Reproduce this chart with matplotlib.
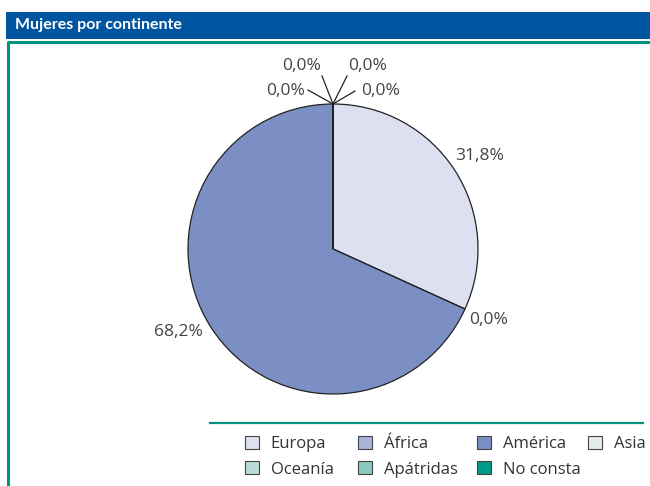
import numpy as np
import matplotlib.pyplot as plt
from matplotlib.patches import Rectangle
from matplotlib.lines import Line2D

# women by continent (%)
continents = ["Europa", "África", "América", "Asia", "Oceanía", "Apátridas", "No consta"]
shares = [31.8, 0.0, 68.2, 0.0, 0.0, 0.0, 0.0]
colors = ["#dde0f0", "#a8b2da", "#7b8fc5", "#e4eded", "#b9dcd9", "#8cc6c0", "#009a8a"]

BLUE = "#0055a0"
TEAL = "#00937f"
W, H = 650, 486

plt.rcParams['font.family'] = ['Open Sans', 'DejaVu Sans']

fig = plt.figure(figsize=(W / 100, H / 100), dpi=100)


def fx(px):
    return px / W


def fy(py):
    return 1 - py / H


# title bar and frame
fig.patches.append(Rectangle((fx(6), fy(39)), fx(644), 27 / H, transform=fig.transFigure,
                             facecolor=BLUE, edgecolor='none'))
fig.text(fx(15), fy(25.5), "Mujeres por continente", color='white', fontsize=11.5,
         fontweight='bold', va='center', ha='left', family=['Lato', 'DejaVu Sans'])
fig.lines.append(Line2D([fx(8), fx(8), fx(650)], [fy(486), fy(42), fy(42)],
                        transform=fig.transFigure, color=TEAL, lw=2.2))
fig.lines.append(Line2D([fx(210), fx(643)], [fy(423), fy(423)],
                        transform=fig.transFigure, color=TEAL, lw=1.6))

# pie axes: center (333, 249), radius 145 px
R = 145
half = 1.5 * R
ax = fig.add_axes([fx(333 - half), fy(249 + half), 2 * half / W, 2 * half / H])
wedges, _ = ax.pie(shares, colors=colors, startangle=90, counterclock=False, radius=1,
                   wedgeprops=dict(edgecolor='#222222', linewidth=0.9))
ax.set_xlim(-1.5, 1.5)
ax.set_ylim(-1.5, 1.5)
ax.set_aspect('equal')
ax.axis('off')


def pct(v):
    return "{:.1f}%".format(v).replace('.', ',')


LABEL_KW = dict(ha='center', va='center', fontsize=12.5, color='#444444')

# fan-out for the zero slices sitting at the top of the pie (line end, text pos) in px
fan = {
    "Asia": ((-25, 14), (-47, 13)),
    "Oceanía": ((-11, 28), (-31, 38)),
    "Apátridas": ((14, 28), (35, 38)),
    "No consta": ((22, 13), (48, 13)),
}
# small nudges (px) for the outside labels
nudge = {"Europa": (3, 0), "América": (-11, 10)}

for w, name, v in zip(wedges, continents, shares):
    mid = np.deg2rad((w.theta1 + w.theta2) / 2)
    if name in fan:
        (lx, ly), (tx, ty) = fan[name]
        x0, y0 = np.cos(mid), np.sin(mid)
        ax.plot([x0, x0 + lx / R], [y0, y0 + ly / R], color='#222222', lw=0.9)
        ax.text(x0 + tx / R, y0 + ty / R, pct(v), **LABEL_KW)
    else:
        r = 1.18
        dx, dy = nudge.get(name, (0, 0))
        ax.text(r * np.cos(mid) + dx / R, r * np.sin(mid) + dy / R, pct(v), **LABEL_KW)

# legend laid out row by row: one small legend per column
legend_cols = [[0, 4], [1, 5], [2, 6], [3]]
col_x = [245, 358, 477, 588]
for idx, x in zip(legend_cols, col_x):
    leg = fig.legend([wedges[i] for i in idx], [continents[i] for i in idx],
                     loc='upper left', bbox_to_anchor=(fx(x), fy(436)), frameon=False,
                     fontsize=12, handlelength=0.85, handleheight=0.85, handletextpad=0.7,
                     labelspacing=0.52, borderpad=0, borderaxespad=0)
    for t in leg.get_texts():
        t.set_color('#333333')
    for h in leg.legend_handles:
        h.set_edgecolor('#444444')
        h.set_linewidth(0.8)

fig.savefig("out.png", dpi=100)
